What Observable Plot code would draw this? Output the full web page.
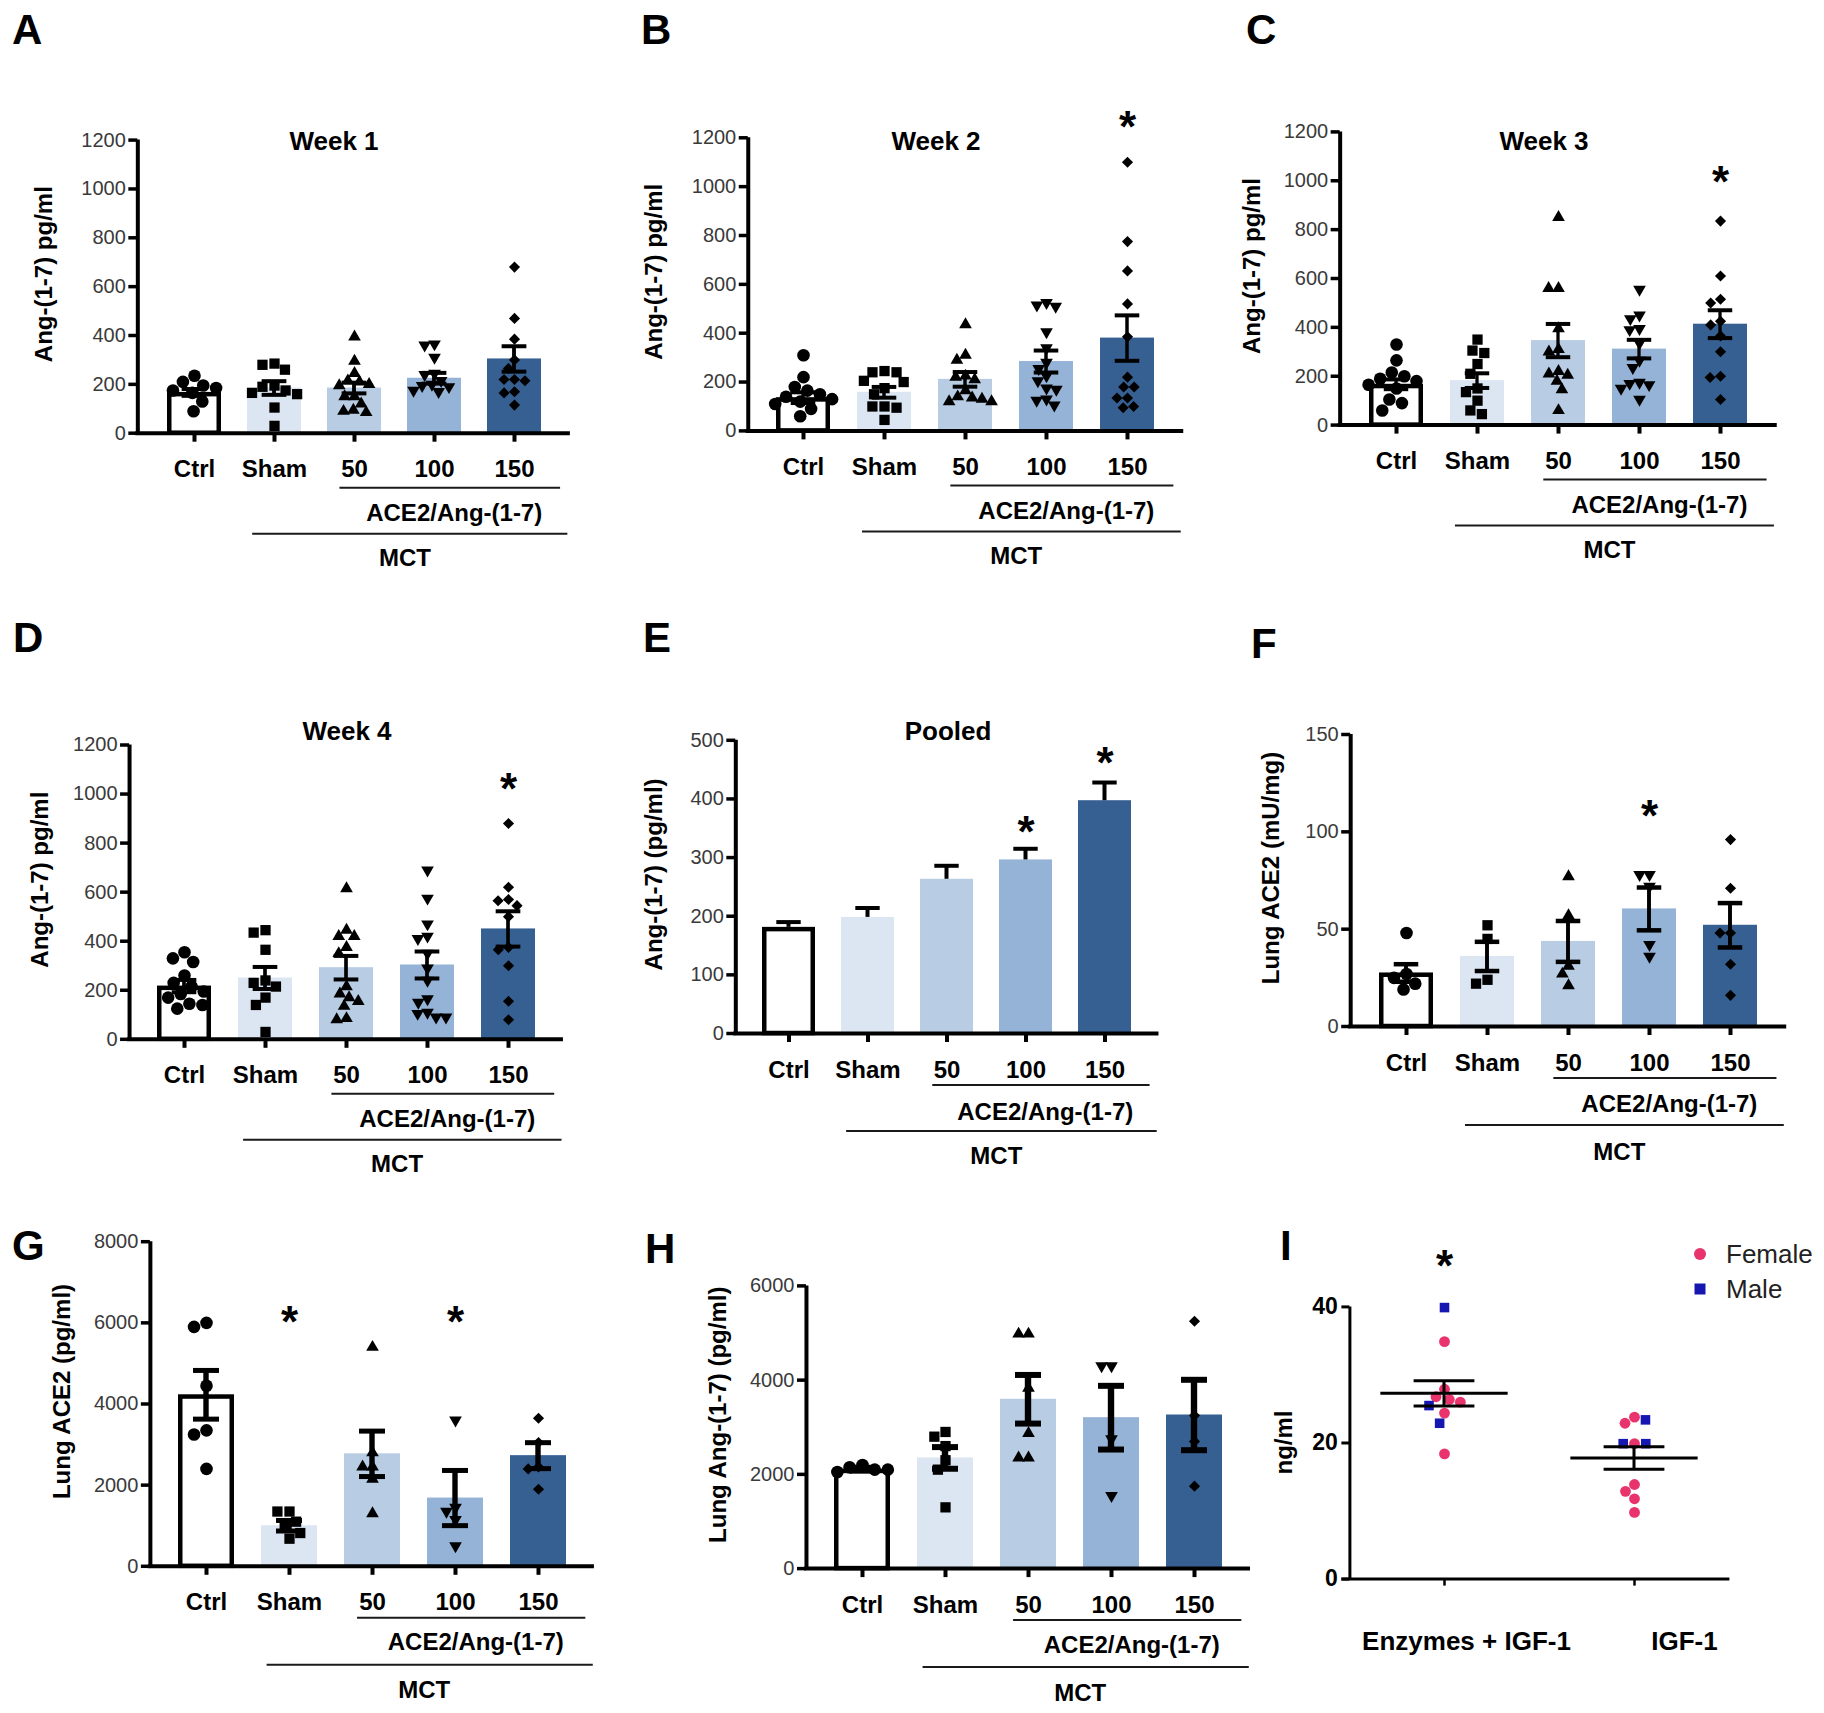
<!DOCTYPE html>
<html>
<head>
<meta charset="utf-8">
<script src="https://cdn.jsdelivr.net/npm/d3@7"></script>
<script src="https://cdn.jsdelivr.net/npm/@observablehq/plot@0.6"></script>
<style>
  html, body { margin: 0; padding: 0; background: #fff; }
  #fig { position: relative; width: 1824px; height: 1713px; overflow: hidden; background: #fff; }
  #fig svg { position: absolute; overflow: visible; }
</style>
</head>
<body>
<div id="fig"></div>
<script>
const FONT = '"Liberation Sans", Arial, Helvetica, sans-serif';

// ---------- categories ----------
const groups = ["Ctrl", "Sham", "50", "100", "150"];
const barFills = ["#ffffff", "#dce6f2", "#b8cce4", "#95b3d7", "#366092"];
const igfGroups = ["Enzymes + IGF-1", "IGF-1"];
const sexes = ["Female", "Male"];
const sexColors = ["#e8336d", "#1616b0"];

// ---------- A: Week 1, plasma Ang-(1-7) pg/ml ----------
const wk1Ctrl = [235, 210, 195, 185, 175, 165, 130, 90];
const wk1Sham = [285, 280, 260, 195, 190, 175, 165, 160, 105, 30];
const wk1D50  = [395, 295, 245, 215, 210, 200, 195, 150, 150, 120, 95, 90, 85];
const wk1D100 = [365, 360, 310, 245, 240, 215, 200, 195, 190, 175, 170];
const wk1D150 = [680, 470, 385, 300, 265, 220, 220, 215, 170, 165, 115];
const wk1Mean = [167, 185, 185, 225, 304];
const wk1Sem  = [14, 28, 22, 22, 52];

// ---------- B: Week 2 ----------
const wk2Ctrl = [310, 220, 180, 165, 150, 140, 130, 120, 110, 90, 60];
const wk2Sham = [245, 240, 240, 205, 200, 175, 150, 100, 100, 95, 45];
const wk2D50  = [435, 310, 290, 225, 220, 210, 165, 140, 135, 130, 120, 120];
const wk2D100 = [525, 515, 510, 405, 340, 280, 255, 225, 205, 175, 170, 130, 125, 105];
const wk2D150 = [1100, 775, 655, 520, 385, 220, 180, 180, 135, 135, 100, 95];
const wk2Mean = [136, 158, 211, 284, 380];
const wk2Sem  = [22, 22, 30, 45, 93];
const wk2Stars = [{g: "150", v: 1290}];

// ---------- C: Week 3 ----------
const wk3Ctrl = [330, 265, 215, 200, 190, 180, 165, 150, 105, 90, 60];
const wk3Sham = [350, 305, 295, 250, 210, 150, 135, 100, 60, 45];
const wk3D50  = [850, 560, 560, 395, 310, 300, 220, 210, 205, 180, 145, 60];
const wk3D100 = [555, 450, 435, 395, 390, 335, 265, 235, 175, 170, 165, 150, 105];
const wk3D150 = [835, 610, 515, 500, 425, 410, 365, 300, 200, 195, 105];
const wk3Mean = [167, 182, 346, 311, 413];
const wk3Sem  = [20, 30, 68, 38, 57];
const wk3Stars = [{g: "150", v: 1040}];

// ---------- D: Week 4 ----------
const wk4Ctrl = [355, 330, 315, 260, 230, 215, 195, 185, 170, 145, 140, 125];
const wk4Sham = [445, 435, 365, 240, 230, 215, 170, 140, 30];
const wk4D50  = [615, 445, 420, 420, 375, 350, 215, 185, 170, 155, 135, 85, 80];
const wk4D100 = [690, 575, 470, 420, 410, 350, 290, 240, 165, 150, 110, 105, 90, 90];
const wk4D150 = [880, 620, 570, 565, 545, 500, 375, 365, 300, 155, 80];
const wk4Mean = [217, 250, 292, 303, 450];
const wk4Sem  = [25, 45, 48, 55, 72];
const wk4Stars = [{g: "150", v: 1065}];

// ---------- E: Pooled ----------
const pooledMean = [181, 198, 263, 296, 397];
const pooledSem  = [9, 16, 23, 19, 31];
const pooledStars = [{g: "100", v: 362}, {g: "150", v: 480}];

// ---------- F: Lung ACE2 (mU/mg) ----------
const fCtrl = [48, 27, 25, 22, 19];
const fSham = [52, 45, 24, 22];
const fD50  = [77, 57, 31, 27, 21];
const fD100 = [78, 78, 72, 42, 36];
const fD150 = [96, 71, 48, 48, 32, 16];
const fMean = [27.5, 36, 43.7, 60.4, 52];
const fSem  = [4.5, 7.5, 10.5, 11, 11.4];
const fStars = [{g: "100", v: 114}];

// ---------- G: Lung ACE2 (pg/ml) ----------
const gCtrl = [6000, 5900, 4450, 3350, 3250, 2400];
const gSham = [1350, 1350, 1100, 1000, 820, 680];
const gD50  = [5400, 2800, 2450, 2450, 2150, 1300];
const gD100 = [3600, 1450, 1350, 1150, 500];
const gD150 = [3650, 3050, 2450, 2400, 1900];
const gMean = [4227, 1000, 2772, 1682, 2727];
const gSem  = [600, 130, 560, 680, 320];
const gStars = [{g: "Sham", v: 6300}, {g: "100", v: 6300}];

// ---------- H: Lung Ang-(1-7) (pg/ml) ----------
const hCtrl = [2200, 2150, 2100, 2100, 2050];
const hSham = [2900, 2800, 2600, 2300, 2100, 1300];
const hD50  = [4980, 4980, 3830, 2870, 2350, 2350];
const hD100 = [4300, 4300, 2750, 1550];
const hD150 = [5250, 3250, 2700, 1750];
const hMean = [2110, 2349, 3594, 3203, 3260];
const hSem  = [30, 230, 516, 676, 747];

// ---------- I: IGF-1 ng/ml ----------
const iEnzFemale = [34.9, 27.9, 26.8, 26.4, 26.0, 24.4, 18.4];
const iEnzMale   = [39.9, 25.5, 22.9];
const iIgfFemale = [23.8, 22.9, 19.9, 13.9, 12.9, 11.8, 9.8];
const iIgfMale   = [23.4, 19.9, 19.9];
const iMean = [27.3, 17.8];
const iSem  = [1.85, 1.65];
const iStars = [{g: "Enzymes + IGF-1", v: 47.7}];

// ---------- symbols ----------
const triDown = {
  draw(ctx, size) {
    const s3 = Math.sqrt(3);
    const y = -Math.sqrt(size / (s3 * 3));
    ctx.moveTo(0, -y * 2);
    ctx.lineTo(-s3 * y, y);
    ctx.lineTo(s3 * y, y);
    ctx.closePath();
  }
};
const SYM = [["circle", 6.3], ["square", 5.8], ["triangle", 4.7], [triDown, 4.7], ["diamond2", 5]];

const fig = document.getElementById("fig");
const plainFormat = d3.format("d");

function addText(sel, x, y, str, size, weight, opts = {}) {
  const t = sel.append("text")
    .attr("x", x).attr("y", y)
    .attr("font-family", FONT).attr("font-size", size).attr("font-weight", weight)
    .attr("fill", opts.fill || "#000")
    .attr("text-anchor", opts.anchor || "middle")
    .attr("dominant-baseline", opts.baseline || "central")
    .text(str);
  if (opts.rotate) t.attr("transform", `rotate(-90 ${x} ${y})`);
  return t;
}
function addLine(sel, x1, x2, y, w = 2) {
  sel.append("line").attr("x1", x1).attr("x2", x2).attr("y1", y).attr("y2", y)
    .attr("stroke", "#1a1a1a").attr("stroke-width", w);
}
function place(svg, left, top) {
  svg.style.left = left + "px";
  svg.style.top = top + "px";
  fig.appendChild(svg);
}

function barPanel(L, d) {
  const pi = 0.33, po = 0.34;
  const axisX = L.c0 - (po + (1 - pi) / 2) * L.step;
  const xEnd = axisX + (groups.length - pi + 2 * po) * L.step;
  const h = L.h || 600;
  const w = Math.max(608, Math.ceil(xEnd - L.left + 20));
  const m = {
    marginLeft: axisX - L.left, marginRight: L.left + w - xEnd,
    marginTop: L.yTop - L.top, marginBottom: L.top + h - L.y0
  };
  const bw = (1 - pi) * L.step;
  const stats = groups.map((g, i) => ({
    g, m: d.mean[i],
    lo: d.upOnly ? d.mean[i] : d.mean[i] - d.sem[i],
    hi: d.mean[i] + d.sem[i]
  }));
  const ew = d.errWidth || 4;
  const style = {fontFamily: FONT, background: "transparent", color: "#000", overflow: "visible"};
  const marks = [
    Plot.barY(stats, {fx: "g", y: "m", fill: "g"}),
    Plot.barY(stats.filter(s => s.g === "Ctrl"), {fx: "g", y: "m", fill: "#fff", stroke: "#000", strokeWidth: 4.5, insetLeft: 2.25, insetRight: 2.25, insetTop: 2.25})
  ];
  if (d.points) d.points.forEach((arr, i) => {
    const sub = arr.map(v => ({g: groups[i], v}));
    marks.push(Plot.dot(sub, Plot.dodgeX({anchor: "middle", padding: 0.5},
      {fx: "g", y: "v", r: SYM[i][1], symbol: SYM[i][0], fill: "#000"})));
  });
  // error bar stem: a thin bar centred in each facet
  const stemInset = (bw - ew) / 2;
  marks.push(Plot.barY(stats, {fx: "g", y1: "lo", y2: "hi", fill: "#000", insetLeft: stemInset, insetRight: stemInset}));
  marks.push(Plot.tickY(stats, {fx: "g", y: "hi", stroke: "#000", strokeWidth: ew, insetLeft: bw * 0.27, insetRight: bw * 0.27}));
  if (!d.upOnly) marks.push(Plot.tickY(stats, {fx: "g", y: "lo", stroke: "#000", strokeWidth: ew, insetLeft: bw * 0.27, insetRight: bw * 0.27}));
  if (d.stars) marks.push(Plot.text(d.stars, {fx: "g", y: "v", text: () => "*", fontSize: 44, fontWeight: "bold", dy: 12}));
  marks.push(Plot.axisFx({anchor: "bottom", label: null, tickSize: 9, strokeWidth: 4, tickPadding: 18, fontSize: 24, fontWeight: "bold"}));

  const main = Plot.plot({
    width: w, height: h, ...m, style,
    fx: {domain: groups, paddingInner: pi, paddingOuter: po, label: null},
    y: {domain: [0, d.yMax], axis: null},
    color: {domain: groups, range: barFills},
    marks
  });
  d3.select(main).selectAll('[aria-label="fx-axis tick label"] text').attr("font-weight", "bold");
  place(main, L.left, L.top);

  const ov = Plot.plot({
    width: w, height: h, ...m, style,
    x: {domain: [0, 1], axis: null},
    y: {domain: [0, d.yMax]},
    marks: [
      Plot.axisY(d.yTicks, {anchor: "left", tickSize: 9, tickPadding: 3, strokeWidth: 3.5, fontSize: 20, label: null, tickFormat: plainFormat}),
      Plot.ruleX([0], {y1: 0, y2: d.yMax, stroke: "#000", strokeWidth: 4}),
      Plot.ruleY([0], {stroke: "#000", strokeWidth: 4, insetLeft: -2})
    ]
  });
  d3.select(ov).selectAll('[aria-label="y-axis tick label"]').attr("fill", "#3a3a3a");
  place(ov, L.left, L.top);

  // annotations placed from the library's fx scale
  const s = d3.select(ov);
  const fxs = main.scale("fx");
  const cx = g => (fxs.apply ? fxs.apply(g) : m.marginLeft + po * L.step + groups.indexOf(g) * L.step) + fxs.bandwidth / 2;
  const st = L.step;
  const y0 = L.y0 - L.top;
  const off = L.off || [55, 80, 101, 125];
  addLine(s, cx("50") - 0.18 * st, cx("150") + 0.57 * st, y0 + off[0]);
  addText(s, cx("100") + 0.25 * st, y0 + off[1], "ACE2/Ang-(1-7)", 24, "bold");
  addLine(s, cx("Sham") - 0.27 * st, cx("150") + 0.66 * st, y0 + off[2]);
  addText(s, cx("50") + 0.63 * st, y0 + off[3], "MCT", 24, "bold");
  if (L.title) addText(s, L.titleX - L.left, L.titleY - L.top, L.title, 26, "bold");
  addText(s, L.letterX - L.left, L.letterY - L.top, L.letter, 42, "bold", {anchor: "start", baseline: "auto"});
  addText(s, m.marginLeft - L.yLabelDx, (L.yTop + L.y0) / 2 - L.top - 12, d.yLabel, 24, "bold", {rotate: true});
}

function scatterPanel(L, d) {
  const axisX = L.axisX, xEnd = axisX + igfGroups.length * L.step;
  const h = L.h, w = L.w;
  const m = {
    marginLeft: axisX - L.left, marginRight: L.left + w - xEnd,
    marginTop: L.yTop - L.top, marginBottom: L.top + h - L.y0
  };
  const style = {fontFamily: FONT, background: "transparent", color: "#000", overflow: "visible"};
  const pts = [];
  d.enzFemale.forEach(v => pts.push({g: igfGroups[0], v, sex: "Female"}));
  d.enzMale.forEach(v => pts.push({g: igfGroups[0], v, sex: "Male"}));
  d.igfFemale.forEach(v => pts.push({g: igfGroups[1], v, sex: "Female"}));
  d.igfMale.forEach(v => pts.push({g: igfGroups[1], v, sex: "Male"}));
  const stats = igfGroups.map((g, i) => ({g, m: d.mean[i], lo: d.mean[i] - d.sem[i], hi: d.mean[i] + d.sem[i]}));
  const stemInset = (L.step - 3) / 2;
  const main = Plot.plot({
    width: w, height: h, ...m, style,
    fx: {domain: igfGroups, padding: 0, label: null},
    y: {domain: [0, 40], axis: null},
    color: {domain: sexes, range: sexColors},
    symbol: {domain: sexes, range: ["circle", "square"]},
    marks: [
      Plot.dot(pts, Plot.dodgeX({anchor: "middle", padding: 0.5}, {fx: "g", y: "v", r: 5.4, fill: "sex", symbol: "sex"})),
      Plot.tickY(stats, {fx: "g", y: "m", stroke: "#000", strokeWidth: 3, insetLeft: 0.165 * L.step, insetRight: 0.165 * L.step}),
      Plot.barY(stats, {fx: "g", y1: "lo", y2: "hi", fill: "#000", insetLeft: stemInset, insetRight: stemInset}),
      Plot.tickY(stats, {fx: "g", y: "hi", stroke: "#000", strokeWidth: 3, insetLeft: 0.34 * L.step, insetRight: 0.34 * L.step}),
      Plot.tickY(stats, {fx: "g", y: "lo", stroke: "#000", strokeWidth: 3, insetLeft: 0.34 * L.step, insetRight: 0.34 * L.step}),
      Plot.text(d.stars, {fx: "g", y: "v", text: () => "*", fontSize: 44, fontWeight: "bold", dy: 12}),
      Plot.axisFx({anchor: "bottom", label: null, tickSize: 7, strokeWidth: 2.5, tickPadding: 45, fontSize: 26, fontWeight: "bold"})
    ]
  });
  // labels sit a little to the right of their ticks in the original
  d3.select(main).selectAll('[aria-label="fx-axis tick label"] text')
    .attr("font-weight", "bold")
    .attr("dx", (_, i) => L.labelShift[i]);
  place(main, L.left, L.top);

  const ov = Plot.plot({
    width: w, height: h, ...m, style,
    x: {domain: [0, 1], axis: null},
    y: {domain: [0, 40]},
    marks: [
      Plot.axisY([0, 20, 40], {anchor: "left", tickSize: 8, tickPadding: 4, strokeWidth: 3, fontSize: 23, label: null, tickFormat: plainFormat}),
      Plot.ruleX([0], {y1: 0, y2: 40, stroke: "#000", strokeWidth: 3}),
      Plot.ruleY([0], {stroke: "#000", strokeWidth: 3, insetLeft: -8})
    ]
  });
  d3.select(ov).selectAll('[aria-label="y-axis tick label"] text').attr("font-weight", "bold");
  place(ov, L.left, L.top);

  const s = d3.select(ov);
  addText(s, L.letterX - L.left, L.letterY - L.top, "I", 42, "bold", {anchor: "start", baseline: "auto"});
  addText(s, m.marginLeft - L.yLabelDx, (L.yTop + L.y0) / 2 - L.top, "ng/ml", 24, "bold", {rotate: true});
  // legend, colours from the plot's own colour scale
  const col = main.scale("color");
  const lx = L.legendX - L.left;
  sexes.forEach((sx, i) => {
    const ly = L.legendY - L.top + i * 35;
    const c = col.range[i];
    if (i === 0) s.append("circle").attr("cx", lx).attr("cy", ly).attr("r", 6).attr("fill", c);
    else s.append("rect").attr("x", lx - 5.5).attr("y", ly - 5.5).attr("width", 11).attr("height", 11).attr("fill", c);
    addText(s, lx + 26, ly, sx, 26, "normal", {anchor: "start", fill: "#222"});
  });
}

// ---------- layout (full-size pixels) ----------
barPanel({left: 0, top: 0, c0: 191.9, step: 80.85, yTop: 139.6, y0: 432.7, title: "Week 1", titleX: 334, titleY: 141, letter: "A", letterX: 12, letterY: 44, yLabelDx: 94},
  {points: [wk1Ctrl, wk1Sham, wk1D50, wk1D100, wk1D150], mean: wk1Mean, sem: wk1Sem, yMax: 1200, yTicks: d3.range(0, 1201, 200), yLabel: "Ang-(1-7) pg/ml"});
barPanel({left: 608, top: 0, c0: 802.7, step: 81.4, yTop: 137.3, y0: 430.4, title: "Week 2", titleX: 936, titleY: 141, letter: "B", letterX: 641, letterY: 44, yLabelDx: 94},
  {points: [wk2Ctrl, wk2Sham, wk2D50, wk2D100, wk2D150], mean: wk2Mean, sem: wk2Sem, stars: wk2Stars, yMax: 1200, yTicks: d3.range(0, 1201, 200), yLabel: "Ang-(1-7) pg/ml"});
barPanel({left: 1216, top: 0, c0: 1394.8, step: 81.7, yTop: 131.4, y0: 424.6, title: "Week 3", titleX: 1544, titleY: 141, letter: "C", letterX: 1246, letterY: 44, yLabelDx: 88},
  {points: [wk3Ctrl, wk3Sham, wk3D50, wk3D100, wk3D150], mean: wk3Mean, sem: wk3Sem, stars: wk3Stars, yMax: 1200, yTicks: d3.range(0, 1201, 200), yLabel: "Ang-(1-7) pg/ml"});
barPanel({left: 0, top: 600, c0: 183.8, step: 81.1, yTop: 744.5, y0: 1038.8, title: "Week 4", titleX: 347, titleY: 731, letter: "D", letterX: 13, letterY: 652, yLabelDx: 90},
  {points: [wk4Ctrl, wk4Sham, wk4D50, wk4D100, wk4D150], mean: wk4Mean, sem: wk4Sem, stars: wk4Stars, yMax: 1200, yTicks: d3.range(0, 1201, 200), yLabel: "Ang-(1-7) pg/ml"});
barPanel({left: 608, top: 600, c0: 788.7, step: 79.1, yTop: 739.8, y0: 1033, title: "Pooled", titleX: 948, titleY: 731, letter: "E", letterX: 643, letterY: 652, yLabelDx: 82, off: [52, 78, 98, 122]},
  {points: null, upOnly: true, mean: pooledMean, sem: pooledSem, stars: pooledStars, yMax: 500, yTicks: d3.range(0, 501, 100), yLabel: "Ang-(1-7) (pg/ml)"});
barPanel({left: 1216, top: 600, c0: 1405.2, step: 81.5, yTop: 734, y0: 1026, letter: "F", letterX: 1251, letterY: 658, yLabelDx: 80, off: [52, 77, 99, 125]},
  {points: [fCtrl, fSham, fD50, fD100, fD150], mean: fMean, sem: fSem, stars: fStars, errWidth: 4.5, yMax: 150, yTicks: [0, 50, 100, 150], yLabel: "Lung ACE2 (mU/mg)"});
barPanel({left: 0, top: 1200, h: 513, c0: 205.9, step: 83, yTop: 1241.2, y0: 1565.8, letter: "G", letterX: 12, letterY: 1260, yLabelDx: 88, off: [52, 76, 99, 124]},
  {points: [gCtrl, gSham, gD50, gD100, gD150], mean: gMean, sem: gSem, stars: gStars, errWidth: 5, yMax: 8000, yTicks: d3.range(0, 8001, 2000), yLabel: "Lung ACE2 (pg/ml)"});
barPanel({left: 608, top: 1200, h: 513, c0: 862, step: 83, yTop: 1285.4, y0: 1568.1, letter: "H", letterX: 645, letterY: 1263, yLabelDx: 88, off: [52, 76, 99, 124]},
  {points: [hCtrl, hSham, hD50, hD100, hD150], mean: hMean, sem: hSem, errWidth: 6, yMax: 6000, yTicks: d3.range(0, 6001, 2000), yLabel: "Lung Ang-(1-7) (pg/ml)"});
scatterPanel({left: 1260, top: 1200, w: 564, h: 513, axisX: 1349.4, step: 190, yTop: 1306.4, y0: 1578.6, letterX: 1280, letterY: 1260, yLabelDx: 66, legendX: 1700, legendY: 1254, labelShift: [22, 50]},
  {enzFemale: iEnzFemale, enzMale: iEnzMale, igfFemale: iIgfFemale, igfMale: iIgfMale, mean: iMean, sem: iSem, stars: iStars});
</script>
</body>
</html>
